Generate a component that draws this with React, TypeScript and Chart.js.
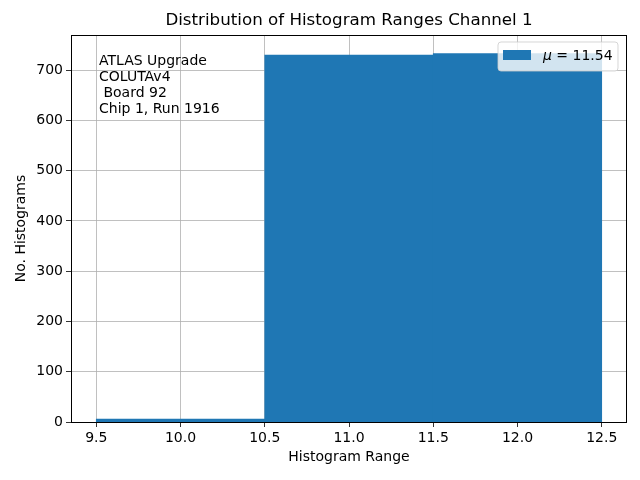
import React, { useEffect, useRef } from "react";
import { Chart, registerables } from "chart.js";

Chart.register(...registerables);

const binCenters = [10, 11, 12];
const counts = [6, 730, 733];
const xTicks = [9.5, 10.0, 10.5, 11.0, 11.5, 12.0, 12.5];
const yTicks = [0, 100, 200, 300, 400, 500, 600, 700];
const meanValue = 11.54;
const titleText = "Distribution of Histogram Ranges Channel 1";
const xLabel = "Histogram Range";
const yLabel = "No. Histograms";
const infoLines = ["ATLAS Upgrade", "COLUTAv4", " Board 92", "Chip 1, Run 1916"];

const FONT = "DejaVu Sans";
const BAR = "#1f77b4";

const decorPlugin = {
  id: "decor",
  afterDraw(chart: any) {
    const { ctx, chartArea } = chart;
    const { left, right, top, bottom } = chartArea;
    ctx.save();
    // frame
    ctx.strokeStyle = "#000";
    ctx.lineWidth = 1;
    ctx.strokeRect(left + 0.5, top + 0.5, right - left - 1, bottom - top);
    // title
    ctx.fillStyle = "#000";
    ctx.font = `16.7px "${FONT}"`;
    ctx.textAlign = "center";
    ctx.textBaseline = "middle";
    ctx.fillText(titleText, (left + right) / 2, 21);
    // axis labels
    ctx.font = `14px "${FONT}"`;
    ctx.fillText(xLabel, (left + right) / 2, 457);
    ctx.save();
    ctx.translate(21, (top + bottom) / 2);
    ctx.rotate(-Math.PI / 2);
    ctx.fillText(yLabel, 0, 0);
    ctx.restore();
    // info text
    ctx.textAlign = "left";
    infoLines.forEach((l, i) => {
      ctx.fillText(l, 99, 61 + i * 16);
    });
    // legend
    const lx = 498, ly = 42, lw = 120, lh = 29, r = 3;
    ctx.beginPath();
    ctx.moveTo(lx + r, ly);
    ctx.lineTo(lx + lw - r, ly);
    ctx.quadraticCurveTo(lx + lw, ly, lx + lw, ly + r);
    ctx.lineTo(lx + lw, ly + lh - r);
    ctx.quadraticCurveTo(lx + lw, ly + lh, lx + lw - r, ly + lh);
    ctx.lineTo(lx + r, ly + lh);
    ctx.quadraticCurveTo(lx, ly + lh, lx, ly + lh - r);
    ctx.lineTo(lx, ly + r);
    ctx.quadraticCurveTo(lx, ly, lx + r, ly);
    ctx.closePath();
    ctx.fillStyle = "rgba(255,255,255,0.8)";
    ctx.fill();
    ctx.strokeStyle = "rgba(204,204,204,0.8)";
    ctx.lineWidth = 1;
    ctx.stroke();
    ctx.fillStyle = BAR;
    ctx.fillRect(503, 50, 28, 10);
    ctx.fillStyle = "#000";
    ctx.textBaseline = "middle";
    ctx.font = `italic 14px "${FONT}"`;
    ctx.fillText("μ", 543, 56);
    const mw = ctx.measureText("μ").width;
    ctx.font = `14px "${FONT}"`;
    ctx.fillText(" = " + meanValue.toFixed(2), 543 + mw, 56);
    ctx.restore();
  },
};

export default function App() {
  const ref = useRef<HTMLCanvasElement>(null);
  useEffect(() => {
    if (!ref.current) return;
    const chart = new Chart(ref.current, {
      type: "bar",
      data: {
        datasets: [
          {
            data: binCenters.map((x, i) => ({ x, y: counts[i] })),
            backgroundColor: BAR,
            borderWidth: 0,
            barThickness: "flex",
            barPercentage: 1,
            categoryPercentage: 1,
          } as any,
        ],
      },
      options: {
        responsive: false,
        animation: false,
        layout: { padding: { left: 0, top: 35, right: 13, bottom: 0 } },
        plugins: {
          legend: { display: false },
          title: { display: false },
          tooltip: { enabled: false },
        },
        scales: {
          x: {
            type: "linear",
            min: 9.35,
            max: 12.65,
            offset: false,
            z: 1,
            grid: {
              offset: false,
              color: "#b0b0b0",
              lineWidth: 0.8,
              tickColor: "#000",
              tickLength: 5,
            },
            border: { display: false },
            ticks: {
              font: { family: FONT, size: 14 },
              color: "#000",
              padding: 3,
              maxRotation: 0,
              autoSkip: false,
              callback: (v: any) => Number(v).toFixed(1),
            },
            afterBuildTicks: (s: any) => {
              s.ticks = xTicks.map((v) => ({ value: v }));
            },
            afterFit: (s: any) => {
              s.height = 58;
            },
          },
          y: {
            type: "linear",
            min: 0,
            max: 770,
            z: 1,
            grid: {
              color: "#b0b0b0",
              lineWidth: 0.8,
              tickColor: "#000",
              tickLength: 5,
            },
            border: { display: false },
            ticks: {
              font: { family: FONT, size: 14 },
              color: "#000",
              padding: 3,
              autoSkip: false,
            },
            afterBuildTicks: (s: any) => {
              s.ticks = yTicks.map((v) => ({ value: v }));
            },
            afterFit: (s: any) => {
              s.width = 71;
            },
          },
        },
      } as any,
      plugins: [decorPlugin],
    });
    return () => chart.destroy();
  }, []);
  return (
    <div style={{ position: "fixed", left: 0, top: 0, width: 640, height: 480, background: "#fff" }}>
      <canvas ref={ref} width={640} height={480} style={{ width: 640, height: 480 }} />
    </div>
  );
}
